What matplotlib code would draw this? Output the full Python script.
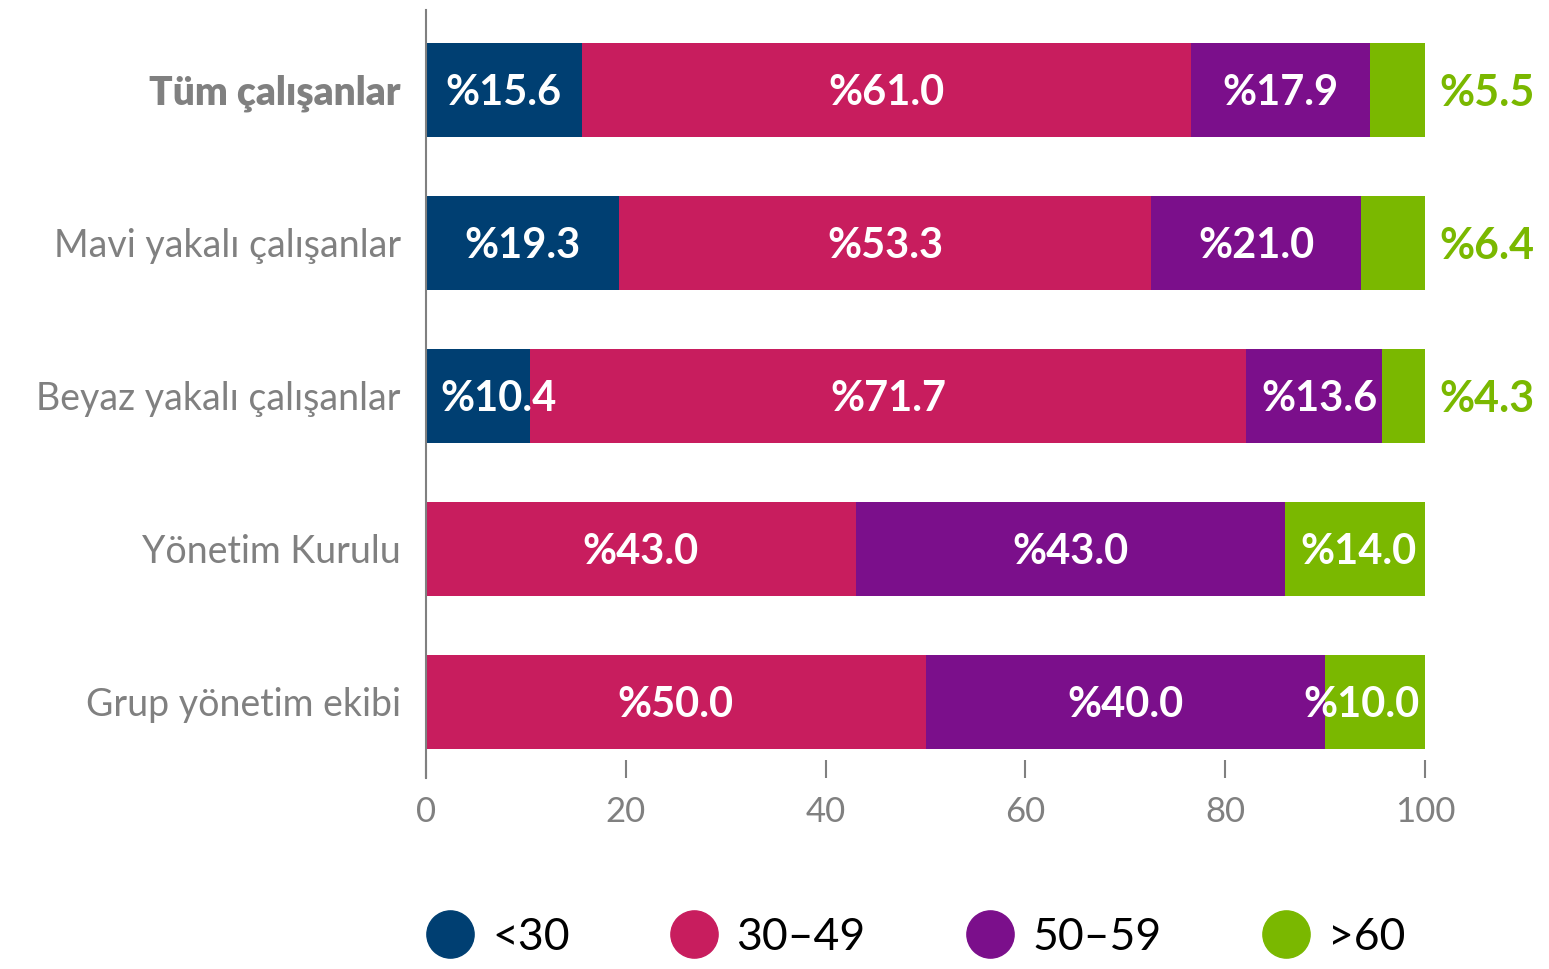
import matplotlib
matplotlib.use("Agg")
import matplotlib.pyplot as plt
from matplotlib.lines import Line2D

categories = [
    "Tüm çalışanlar",
    "Mavi yakalı çalışanlar",
    "Beyaz yakalı çalışanlar",
    "Yönetim Kurulu",
    "Grup yönetim ekibi",
]
age_groups = ["<30", "30–49", "50–59", ">60"]
under_30 = [15.6, 19.3, 10.4, 0.0, 0.0]
age_30_49 = [61.0, 53.3, 71.7, 43.0, 50.0]
age_50_59 = [17.9, 21.0, 13.6, 43.0, 40.0]
over_60 = [5.5, 6.4, 4.3, 14.0, 10.0]
x_ticks = [0, 20, 40, 60, 80, 100]

colors = ["#003f72", "#c81d5e", "#7b0f8b", "#7ab800"]
GRAY = "#808080"
FONT = "Lato"

plt.rcParams["font.family"] = [FONT, "DejaVu Sans"]

fig = plt.figure(figsize=(15.49, 9.69), dpi=100)
ax = fig.add_axes([0.2750, 0.1971, 0.6450, 0.7926])

series = [under_30, age_30_49, age_50_59, over_60]
y = list(range(len(categories)))
left = [0.0] * len(categories)
half_w = 5.9  # rough half width of a label, in data units

for si, vals in enumerate(series):
    ax.barh(y, vals, left=left, height=0.614, color=colors[si], linewidth=0)
    for i, v in enumerate(vals):
        if v <= 0:
            continue
        start, end = left[i], left[i] + v
        txt = f"%{v:.1f}"
        if v < 8:
            # small segments get their label outside the bar, in green
            ax.text(101.4, i + 0.02, txt, ha="left", va="center", color=colors[3],
                    fontsize=31, fontweight="bold")
            continue
        cx = (start + end) / 2
        cx = max(cx, start + 1.4 + half_w)
        cx = min(cx, 99.5 - half_w)
        ax.text(cx, i + 0.02, txt, ha="center", va="center", color="white",
                fontsize=30, fontweight="bold")
    left = [a + b for a, b in zip(left, vals)]

ax.set_xlim(0, 100)
ax.set_ylim(4.497, -0.523)
ax.set_yticks(y)
ax.set_yticklabels(categories)
for i, lab in enumerate(ax.get_yticklabels()):
    lab.set_color(GRAY)
    lab.set_fontsize(27)
    if i == 0:
        lab.set_fontweight("heavy")
        lab.set_fontsize(28)
ax.tick_params(axis="y", length=0, pad=18)

ax.set_xticks(x_ticks)
ax.set_xticklabels([str(t) for t in x_ticks])
ax.tick_params(axis="x", direction="in", length=13, width=1.5, color=GRAY,
               labelcolor=GRAY, labelsize=25, pad=13)

for side in ["top", "right", "bottom"]:
    ax.spines[side].set_visible(False)
ax.spines["left"].set_color(GRAY)
ax.spines["left"].set_linewidth(1.5)

handles = [Line2D([], [], marker="o", linestyle="none", markersize=34,
                  markerfacecolor=c, markeredgecolor=c) for c in colors]
fig.legend(handles, age_groups, loc="center", bbox_to_anchor=(0.591, 0.033),
           ncol=4, frameon=False, fontsize=32, handletextpad=0.4,
           columnspacing=2.25, handlelength=1.1)

fig.savefig("out.png", dpi=100)
